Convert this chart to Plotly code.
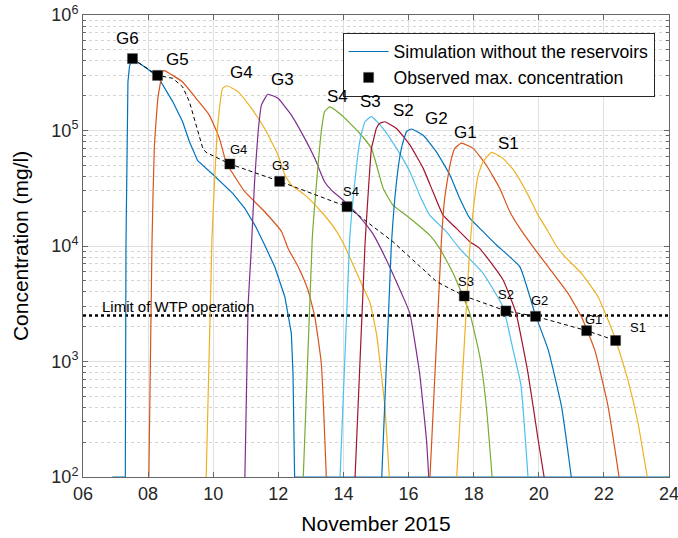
import numpy as np
import plotly.graph_objects as go

# ---------------- data (day of November 2015, concentration mg/l) ----------------
G6_x = [6.9, 7.30, 7.32, 7.35, 7.38, 7.43, 7.52, 7.90, 8.30, 8.76, 9.06, 9.27, 9.52, 10.00, 10.35, 10.60,
        10.97, 11.30, 11.58, 11.89, 12.20, 12.40, 12.45, 12.50, 24.0]
G6_y = [100, 100, 1.0e4, 1.35e5, 2.63e5, 3.63e5, 4.17e5, 3.55e5, 2.92e5, 1.77e5, 1.19e5, 8.0e4, 5.48e4, 4.14e4,
        3.37e4, 2.86e4, 2.12e4, 1.48e4, 1.02e4, 6.6e3, 3.64e3, 1.75e3, 7.9e2, 100, 100]

G5_x = [8.02, 8.12, 8.19, 8.30, 8.45, 8.50, 9.06, 9.47, 9.88, 10.19, 10.39, 10.50, 10.97, 11.58, 12.10, 12.30,
        12.61, 12.91, 13.12, 13.32, 13.48]
G5_y = [90, 1.1e4, 7.0e4, 1.9e5, 3.24e5, 3.3e5, 2.63e5, 1.9e5, 1.36e5, 8.55e4, 5.37e4, 4.71e4, 2.95e4, 1.98e4,
        1.33e4, 9.5e3, 6.6e3, 4.16e3, 2.44e3, 9.6e2, 90]

G4_x = [9.78, 9.96, 10.04, 10.14, 10.29, 10.42, 10.76, 11.17, 11.58, 11.99, 12.20, 12.40, 12.81, 13.32, 13.73,
        14.00, 14.55, 14.81, 15.02, 15.27, 15.42]
G4_y = [90, 1.13e4, 3.6e4, 1.12e5, 2.32e5, 2.44e5, 2.17e5, 1.56e5, 1.04e5, 6.14e4, 4.12e4, 3.37e4, 2.77e4,
        1.98e4, 1.42e4, 1.05e4, 4.75e3, 3.27e3, 1.7e3, 4.1e2, 90]

G3_x = [10.97, 11.07, 11.17, 11.27, 11.38, 11.48, 11.68, 11.99, 12.40, 12.81, 13.12, 13.42, 13.63, 14.04, 14.45,
        14.86, 15.01, 15.42, 15.83, 16.04, 16.34, 16.55, 16.63]
G3_y = [90, 3.0e3, 9.5e3, 3.6e4, 9.8e4, 1.66e5, 2.06e5, 1.9e5, 1.36e5, 8.55e4, 5.74e4, 3.6e4, 3.05e4, 2.42e4,
        1.85e4, 1.33e4, 1.13e4, 6.6e3, 3.64e3, 2.61e3, 7.9e2, 2.1e2, 90]

S4_x = [12.76, 13.04, 13.22, 13.32, 13.42, 13.58, 13.94, 14.45, 14.86, 15.22, 15.52, 16.04, 16.65, 16.96, 17.37,
        17.88, 18.19, 18.39, 18.58]
S4_y = [90, 1.13e4, 5.0e4, 9.8e4, 1.46e5, 1.6e5, 1.36e5, 9.8e4, 7.0e4, 3.16e4, 2.26e4, 1.74e4, 1.24e4, 9.5e3,
        5.8e3, 2.61e3, 1.1e3, 4.06e2, 90]

S3_x = [13.89, 14.19, 14.35, 14.50, 14.66, 14.86, 15.22, 15.63, 16.04, 16.34, 16.65, 17.16, 17.57, 18.29, 18.90,
        19.20, 19.45, 19.68]
S3_y = [90, 1.13e4, 3.6e4, 8.0e4, 1.19e5, 1.32e5, 1.04e5, 7.0e4, 4.4e4, 2.77e4, 1.85e4, 1.33e4, 9.5e3, 5.8e3,
        2.98e3, 1.3e3, 6.3e2, 90]

S2_x = [14.35, 14.66, 14.86, 14.91, 15.01, 15.11, 15.27, 15.63, 16.04, 16.45, 16.75, 17.06, 17.47, 17.88, 18.19,
        18.90, 19.30, 19.67, 19.98, 20.19]
S2_y = [90, 1.0e4, 7.0e4, 8.0e4, 1.04e5, 1.15e5, 1.19e5, 1.04e5, 7.5e4, 4.7e4, 2.95e4, 1.85e4, 1.42e4, 1.09e4,
        9.5e3, 5.1e3, 2.63e3, 7.9e2, 2.1e2, 90]

G2_x = [15.17, 15.47, 15.63, 15.78, 15.94, 16.09, 16.45, 16.86, 17.27, 17.57, 17.88, 18.29, 18.70, 19.42, 19.88,
        20.29, 20.70, 21.02]
G2_y = [90, 1.0e4, 3.6e4, 7.0e4, 9.8e4, 1.03e5, 9.1e4, 6.5e4, 4.12e4, 2.59e4, 1.74e4, 1.33e4, 1.02e4, 6.6e3,
        2.61e3, 1.26e3, 4.06e2, 90]

G1_x = [16.65, 17.01, 17.11, 17.27, 17.42, 17.62, 17.98, 18.39, 18.80, 19.11, 19.42, 19.75, 20.29, 20.90, 21.31,
        21.72, 22.13, 22.49]
G1_y = [90, 1.13e4, 2.59e4, 5.0e4, 7.0e4, 7.76e4, 7.0e4, 5.0e4, 3.16e4, 1.98e4, 1.42e4, 1.05e4, 6.6e3, 3.89e3,
        2.44e3, 1.26e3, 4.06e2, 90]

S1_x = [17.47, 17.88, 18.03, 18.14, 18.29, 18.55, 18.90, 19.26, 19.67, 19.98, 20.29, 20.54, 20.80, 21.31, 21.82,
        22.33, 22.74, 23.05, 23.36]
S1_y = [90, 9.5e3, 2.59e4, 4.12e4, 5.37e4, 6.47e4, 5.74e4, 4.4e4, 2.77e4, 1.85e4, 1.33e4, 1.0e4, 8.1e3, 5.8e3,
        3.64e3, 1.64e3, 6.9e2, 2.92e2, 90]

# observed maxima
obs_names = ["G6", "G5", "G4", "G3", "S4", "S3", "S2", "G2", "G1", "S1"]
obs_day = [7.52, 8.29, 10.51, 12.04, 14.11, 17.71, 18.99, 19.90, 21.47, 22.36]
obs_conc = [4.19e5, 3.0e5, 5.13e4, 3.63e4, 2.19e4, 3.69e3, 2.74e3, 2.46e3, 1.85e3, 1.52e3]

# dashed connecting path
path_day = [7.52, 8.29, 8.76, 9.06, 9.27, 9.47, 9.68, 9.78, 10.51, 12.04, 14.11, 15.52, 16.45, 16.86, 17.71,
            18.99, 19.90, 21.47, 22.36]
path_conc = [4.19e5, 3.0e5, 2.83e5, 2.39e5, 1.77e5, 1.12e5, 7.0e4, 6.47e4, 5.13e4, 3.63e4, 2.19e4, 1.09e4,
             6.24e3, 4.91e3, 3.69e3, 2.74e3, 2.46e3, 1.85e3, 1.52e3]

# curve name labels near peaks
peak_label_day = [7.37, 8.89, 10.87, 12.13, 13.83, 14.83, 15.83, 16.86, 17.76, 19.06]
peak_label_conc = [6.3e5, 4.13e5, 3.16e5, 2.74e5, 1.96e5, 1.78e5, 1.48e5, 1.27e5, 9.6e4, 7.7e4]
# small labels near observed markers
obs_label_day = [10.79, 12.07, 14.24, 17.75, 19.00, 20.01, 21.69, 23.05]
obs_label_conc = [6.78e4, 4.95e4, 2.95e4, 4.91e3, 3.77e3, 3.4e3, 2.29e3, 1.98e3]
obs_label_text = ["G4", "G3", "S4", "S3", "S2", "G2", "G1", "S1"]

wtp_limit = 2500
x_ticks = [6, 8, 10, 12, 14, 16, 18, 20, 22, 24]
x_ticktext = ["06", "08", "10", "12", "14", "16", "18", "20", "22", "24"]
y_ticks = [1e2, 1e3, 1e4, 1e5, 1e6]
y_ticktext = ["10<sup>2</sup>", "10<sup>3</sup>", "10<sup>4</sup>", "10<sup>5</sup>", "10<sup>6</sup>"]

# ---------------- styling ----------------
BLUE, ORANGE, YELLOW, PURPLE = "#0072BD", "#D95319", "#EDB120", "#7E2F8E"
GREEN, LBLUE, DRED = "#77AC30", "#4DBEEE", "#A2142F"
FONT = "Liberation Sans, Arial, Helvetica, sans-serif"

curves = [
    (G6_x, G6_y, BLUE), (G5_x, G5_y, ORANGE), (G4_x, G4_y, YELLOW), (G3_x, G3_y, PURPLE),
    (S4_x, S4_y, GREEN), (S3_x, S3_y, LBLUE), (S2_x, S2_y, DRED), (G2_x, G2_y, BLUE),
    (G1_x, G1_y, ORANGE), (S1_x, S1_y, YELLOW),
]

fig = go.Figure()

# limit line
fig.add_trace(go.Scatter(x=[x_ticks[0], x_ticks[-1]], y=[wtp_limit, wtp_limit], mode="lines",
                         line=dict(color="black", width=2.5, dash="dot"), showlegend=False,
                         hoverinfo="skip"))

for i, (cx, cy, col) in enumerate(curves):
    if i == 0:
        ln = dict(color=col, width=1.2, shape="linear")
    else:
        ln = dict(color=col, width=1.2, shape="spline", smoothing=0.4)
    fig.add_trace(go.Scatter(x=cx, y=cy, mode="lines", line=ln,
                             name="Simulation without the reservoirs", showlegend=(i == 0)))

fig.add_trace(go.Scatter(x=path_day, y=path_conc, mode="lines",
                         line=dict(color="black", width=1, dash="4px,3px"), showlegend=False))
fig.add_trace(go.Scatter(x=obs_day, y=obs_conc, mode="markers",
                         marker=dict(symbol="square", size=10, color="black",
                                     line=dict(color="#444", width=0.5)),
                         name="Observed max. concentration", text=obs_names))

ann = []
for d, c, t in zip(peak_label_day, peak_label_conc, obs_names):
    ann.append(dict(x=d, y=np.log10(c), text=t, showarrow=False, xref="x", yref="y",
                    font=dict(size=17, color="black", family=FONT)))
for d, c, t in zip(obs_label_day, obs_label_conc, obs_label_text):
    ann.append(dict(x=d, y=np.log10(c), text=t, showarrow=False, xref="x", yref="y",
                    font=dict(size=13, color="black", family=FONT)))
ann.append(dict(x=6.51, y=np.log10(wtp_limit) + 0.075, text="Limit of WTP operation", showarrow=False,
                xref="x", yref="y", xanchor="left",
                font=dict(size=15, color="black", family=FONT)))

fig.update_layout(
    width=678, height=538,
    margin=dict(l=83, r=9, t=15, b=61),
    paper_bgcolor="white", plot_bgcolor="white",
    font=dict(family=FONT, color="#262626", size=17),
    annotations=ann,
    legend=dict(x=0.443, y=0.962, xanchor="left", yanchor="top", bgcolor="white",
                bordercolor="#262626", borderwidth=1, font=dict(size=17.6, color="black"),
                tracegroupgap=0, itemwidth=40),
)
fig.update_xaxes(range=[6, 24], tickvals=x_ticks, ticktext=x_ticktext, automargin=False,
                 ticklabeloverflow="allow",
                 showgrid=True, gridcolor="#e0e0e0", gridwidth=1,
                 ticks="inside", ticklen=5, tickcolor="#666",
                 showline=True, linecolor="#666", mirror="allticks", zeroline=False,
                 tickfont=dict(size=18, color="#262626"),
                 title=dict(text="November 2015", font=dict(size=21, color="black"), standoff=13))
fig.update_yaxes(type="log", range=[2, 6], tickvals=y_ticks, ticktext=y_ticktext, automargin=False,
                 ticklabeloverflow="allow",
                 showgrid=True, gridcolor="#e0e0e0", gridwidth=1,
                 ticks="inside", ticklen=5, tickcolor="#666",
                 showline=True, linecolor="#666", mirror="allticks", zeroline=False,
                 tickfont=dict(size=18, color="#262626"),
                 minor=dict(dtick="D1", ticks="inside", ticklen=3, tickcolor="#666",
                            showgrid=True, gridcolor="#d4d4d4", griddash="dot"),
                 title=dict(text="Concentration (mg/l)", font=dict(size=21, color="black"), standoff=17))

fig.write_html("out.html")
